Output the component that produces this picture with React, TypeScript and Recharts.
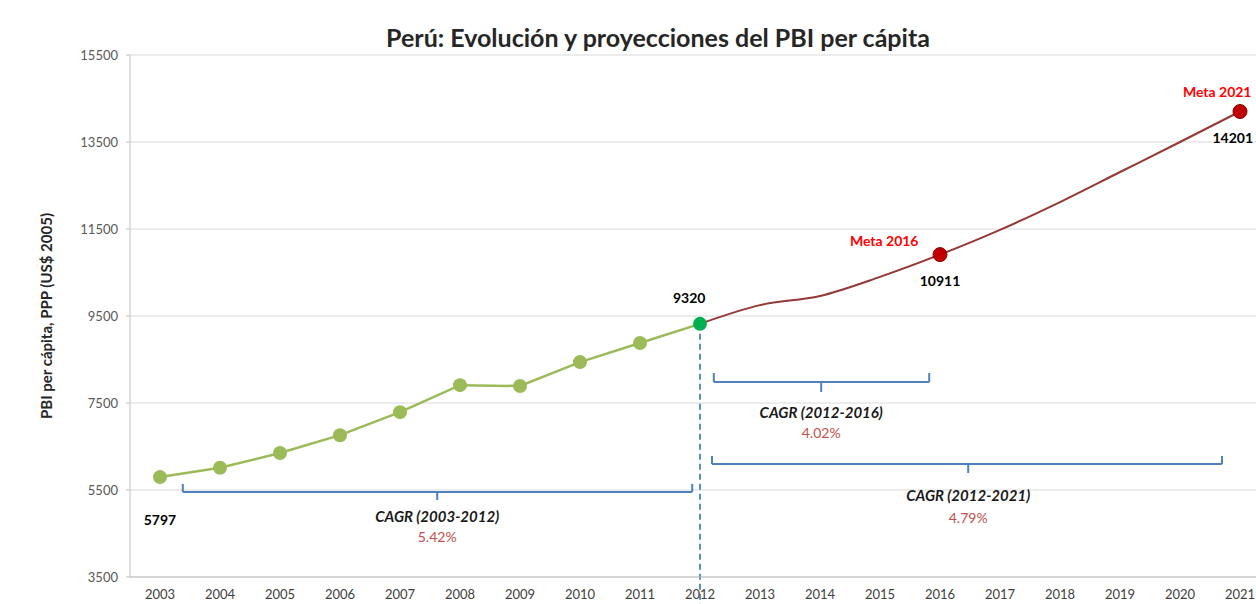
import React from 'react'
import { LineChart, Line, XAxis, YAxis, CartesianGrid, ReferenceLine, ReferenceDot } from 'recharts'

const years = [2003, 2004, 2005, 2006, 2007, 2008, 2009, 2010, 2011, 2012, 2013, 2014, 2015, 2016, 2017, 2018, 2019, 2020, 2021]
// PBI per cápita observado 2003-2012
const historico = [5797, 6010, 6350, 6760, 7290, 7910, 7890, 8440, 8880, 9320]
// proyección 2012-2021
const proyeccion = [9320, 9750, 9960, 10400, 10911, 11480, 12120, 12810, 13500, 14201]
const metaYears = [2016, 2021]
const yTicks = [3500, 5500, 7500, 9500, 11500, 13500, 15500]
const halfYears = years.map(y => y - 0.5).concat([2021.5])

// llaves de CAGR, en unidades de datos
const brackets = [
  { x1: 2003.38, x2: 2011.87, y: 5454, top: 5640, mid: 2007.62, tip: 5270 },
  { x1: 2012.23, x2: 2015.82, y: 7983, top: 8190, mid: 2014.02, tip: 7753 },
  { x1: 2012.2, x2: 2020.7, y: 6098, top: 6282, mid: 2016.47, tip: 5890 },
]

const valueLabels = [
  { x: 2003, y: 4810, text: '5797', color: '#000' },
  { x: 2011.82, y: 9914, text: '9320', color: '#000' },
  { x: 2016.0, y: 10305, text: '10911', color: '#000' },
  { x: 2015.07, y: 11224, text: 'Meta 2016', color: '#ff0000' },
  { x: 2020.62, y: 14649, text: 'Meta 2021', color: '#ff0000' },
  { x: 2020.88, y: 13592, text: '14201', color: '#000' },
]

const cagrLabels = [
  { x: 2007.62, y: 4879, title: 'CAGR (2003-2012)', y2: 4420, rate: '5.42%' },
  { x: 2014.02, y: 7270, title: 'CAGR (2012-2016)', y2: 6810, rate: '4.02%' },
  { x: 2016.47, y: 5362, title: 'CAGR (2012-2021)', y2: 4856, rate: '4.79%' },
]

const data = years.map((year, i) => ({
  year,
  hist: i < historico.length ? historico[i] : null,
  proj: i >= historico.length - 1 ? proyeccion[i - historico.length + 1] : null,
}))

const FONT = 'Lato, "Open Sans", sans-serif'
const BLUE = '#4f81bd'

const HistDot = (props: any) => {
  const { cx, cy, payload } = props
  if (cx == null || cy == null || payload?.hist == null) return null
  const last = payload.year === 2012
  return <circle cx={cx} cy={cy} r={7} fill={last ? '#00b050' : '#9bbb59'} stroke="none" />
}

const ProjDot = (props: any) => {
  const { cx, cy, payload } = props
  if (cx == null || cy == null || !metaYears.includes(payload?.year)) return null
  return <circle cx={cx} cy={cy} r={7} fill="#c00000" stroke="#8b0000" strokeWidth={1} />
}

export default function App() {
  return (
    <div style={{ position: 'absolute', left: 0, top: 0, width: 1256, height: 604, overflow: 'hidden', background: '#fff', fontFamily: FONT }}>
      <div style={{ position: 'absolute', left: 0, top: 22, width: 1316, textAlign: 'center', fontSize: 25, fontWeight: 700, color: '#262626', lineHeight: '30px' }}>
        Perú: Evolución y proyecciones del PBI per cápita
      </div>
      <LineChart width={1300} height={604} data={data} margin={{ top: 55, right: 30, bottom: 0, left: 0 }}>
        <CartesianGrid vertical={false} stroke="#d9d9d9" />
        <XAxis
          xAxisId="marks"
          dataKey="year"
          type="number"
          domain={[2002.5, 2021.5]}
          ticks={halfYears}
          tick={false}
          height={0}
          tickSize={5}
          axisLine={false}
          tickLine={{ stroke: '#bfbfbf' }}
        />
        <XAxis
          dataKey="year"
          type="number"
          domain={[2002.5, 2021.5]}
          ticks={years}
          interval={0}
          height={27}
          tickLine={false}
          axisLine={{ stroke: '#bfbfbf' }}
          tick={{ fill: '#404040', fontSize: 13, fontFamily: FONT }}
          tickMargin={7}
        />
        <YAxis
          width={130}
          domain={[3500, 15500]}
          ticks={yTicks}
          interval={0}
          axisLine={{ stroke: '#bfbfbf' }}
          tickLine={{ stroke: '#bfbfbf' }}
          tickSize={4}
          tickMargin={8}
          tick={{ fill: '#595959', fontSize: 13, fontFamily: FONT }}
          label={{
            value: 'PBI per cápita, PPP (US$ 2005)',
            angle: -90,
            position: 'insideLeft',
            offset: 47,
            fill: '#262626',
            fontSize: 15,
            fontWeight: 700,
            fontFamily: FONT,
            style: { textAnchor: 'middle' },
          }}
        />
        <ReferenceLine
          segment={[{ x: 2012, y: 9320 }, { x: 2012, y: 2850 }]}
          stroke="#2e75b6"
          strokeWidth={1.6}
          strokeDasharray="6 4"
          ifOverflow="visible"
        />
        {brackets.map((b, i) => (
          <React.Fragment key={'b' + i}>
            <ReferenceLine segment={[{ x: b.x1, y: b.y }, { x: b.x2, y: b.y }]} stroke={BLUE} strokeWidth={2} ifOverflow="visible" />
            <ReferenceLine segment={[{ x: b.x1, y: b.y }, { x: b.x1, y: b.top }]} stroke={BLUE} strokeWidth={2} ifOverflow="visible" />
            <ReferenceLine segment={[{ x: b.x2, y: b.y }, { x: b.x2, y: b.top }]} stroke={BLUE} strokeWidth={2} ifOverflow="visible" />
            <ReferenceLine segment={[{ x: b.mid, y: b.y }, { x: b.mid, y: b.tip }]} stroke={BLUE} strokeWidth={2} ifOverflow="visible" />
          </React.Fragment>
        ))}
        <Line
          dataKey="proj"
          type="monotone"
          stroke="#953735"
          strokeWidth={2}
          dot={<ProjDot />}
          activeDot={false}
          connectNulls={false}
          isAnimationActive={false}
        />
        <Line
          dataKey="hist"
          type="linear"
          stroke="#9bbb59"
          strokeWidth={2.5}
          dot={<HistDot />}
          activeDot={false}
          connectNulls={false}
          isAnimationActive={false}
        />
        {valueLabels.map((l, i) => (
          <ReferenceDot
            key={'v' + i}
            x={l.x}
            y={l.y}
            r={0}
            fill="none"
            stroke="none"
            ifOverflow="visible"
            label={{ value: l.text, position: 'center', fill: l.color, fontSize: 14, fontWeight: 700, fontFamily: FONT }}
          />
        ))}
        {cagrLabels.map((l, i) => (
          <React.Fragment key={'c' + i}>
            <ReferenceDot
              x={l.x}
              y={l.y}
              r={0}
              fill="none"
              stroke="none"
              ifOverflow="visible"
              label={{ value: l.title, position: 'center', fill: '#1a1a1a', fontSize: 15, fontWeight: 700, fontStyle: 'italic', fontFamily: FONT }}
            />
            <ReferenceDot
              x={l.x}
              y={l.y2}
              r={0}
              fill="none"
              stroke="none"
              ifOverflow="visible"
              label={{ value: l.rate, position: 'center', fill: '#c0504d', fontSize: 14, fontFamily: FONT }}
            />
          </React.Fragment>
        ))}
      </LineChart>
    </div>
  )
}
